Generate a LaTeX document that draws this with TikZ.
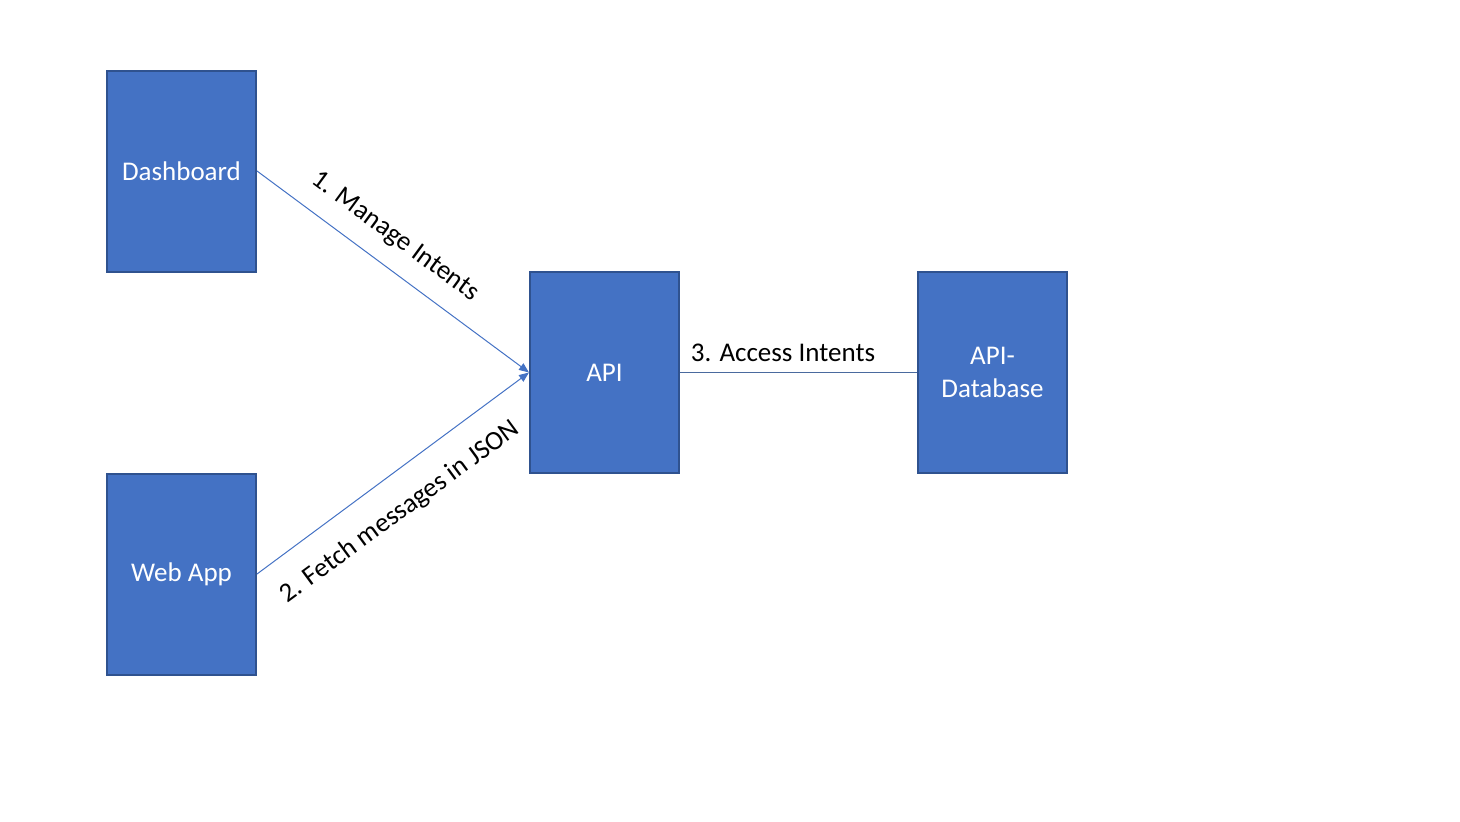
\documentclass[tikz,border=0pt]{standalone}
\usepackage{fontspec}
\setmainfont{Carlito}
\usetikzlibrary{arrows.meta}
\definecolor{boxfill}{HTML}{4472C4}
\definecolor{boxline}{HTML}{2F528F}
\definecolor{linkblue}{HTML}{4472C4}
\definecolor{linkgray}{HTML}{4A6A9E}
\begin{document}
\begin{tikzpicture}[x=1pt,y=-1pt,
  block/.style={draw=boxline, line width=2pt, fill=boxfill, text=white,
    minimum width=149pt, minimum height=201pt, inner sep=0pt, align=center,
    font=\fontsize{27}{33}\selectfont},
  lbl/.style={font=\fontsize{27}{33}\selectfont, text=black, inner sep=0pt},
  link/.style={draw=linkblue, line width=1pt, -{Triangle[length=10pt,width=8pt]}}]
\useasboundingbox (0,0) rectangle (1460,822);
\node[block] (dash) at (181.5,171) {Dashboard};
\node[block] (web) at (181.5,574) {Web App};
\node[block] (api) at (604.5,372.5) {API};
\node[block] (db) at (992.5,372.5) {API-\\Database};
\draw[link] (dash.east) -- (api.west);
\draw[link] (web.east) -- (api.west);
\draw[draw=linkgray, line width=1pt] (api.east) -- (db.west);
\node[lbl, rotate=-36.3] (l1) at (395,237) {1. Manage Intents};
\node[lbl, rotate=36.3] (l2) at (400,512) {2. Fetch messages in JSON};
\node[lbl, anchor=south] (l3) at (783,362) {3. Access Intents};
\end{tikzpicture}
\end{document}
